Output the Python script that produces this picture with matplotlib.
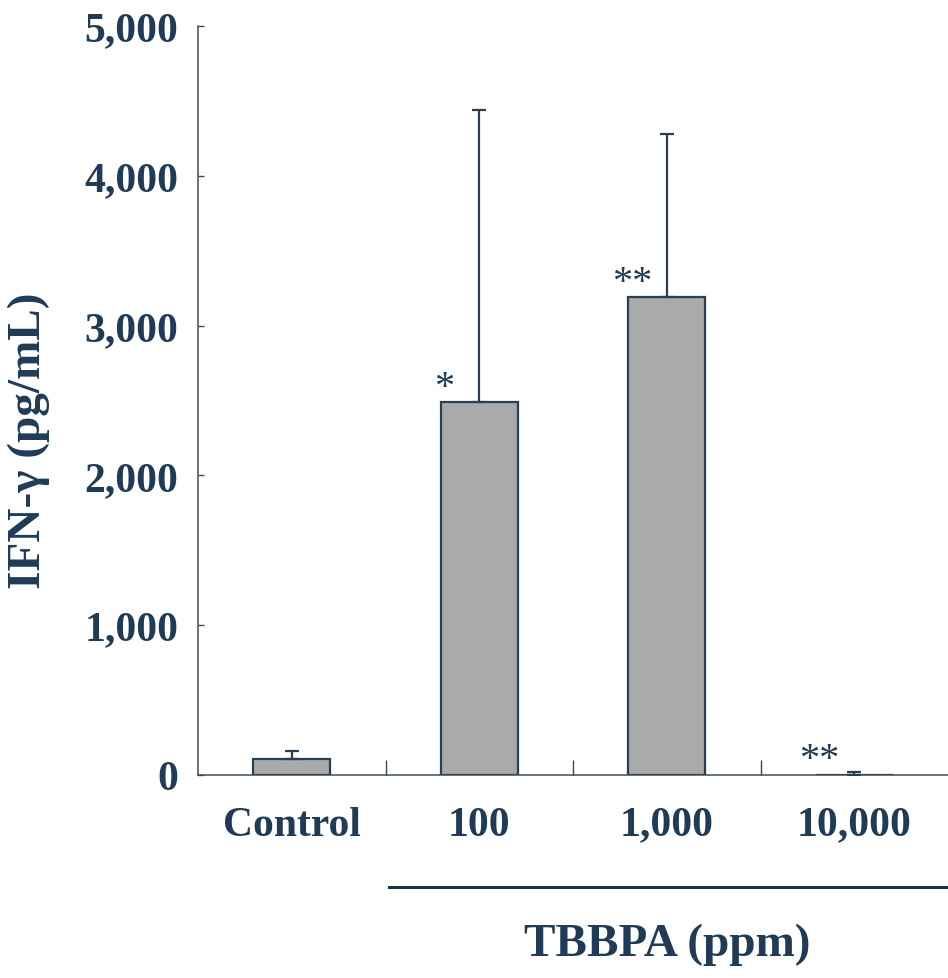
import matplotlib
matplotlib.use("Agg")
import matplotlib.pyplot as plt
import matplotlib.transforms as mtransforms

categories = ["Control", "100", "1,000", "10,000"]
means = [110, 2490, 3190, 2]
errors = [50, 1950, 1090, 18]
stars = ["", "*", "**", "**"]
yticks = [0, 1000, 2000, 3000, 4000, 5000]
ytick_labels = ["0", "1,000", "2,000", "3,000", "4,000", "5,000"]

navy = "#1f3b57"
edge = "#2b3f52"
fill = "#a9aaa9"
serif = ["Liberation Serif", "DejaVu Serif"]

fig = plt.figure(figsize=(9.48, 9.79), dpi=100)
ax = fig.add_axes([198 / 948, 1 - 776 / 979, 750 / 948, 749 / 979])

x = list(range(len(categories)))
ax.bar(x, means, width=0.41, color=fill, edgecolor=edge, linewidth=1.6, zorder=2)
ax.errorbar(x, means, yerr=[[0] * len(errors), errors], fmt="none",
            ecolor=edge, elinewidth=1.6, capsize=5, capthick=1.6, zorder=3)

for xi, m, s in zip(x, means, stars):
    if s:
        ax.text(xi - 0.185, m - 25, s, ha="center", va="bottom",
                fontsize=29, family=serif, color=navy)

ax.set_xlim(-0.5, 3.5)
ax.set_ylim(0, 5000)
ax.set_yticks(yticks)
ax.set_yticklabels(ytick_labels)
ax.set_xticks(x)
ax.set_xticklabels(categories)
ax.set_xticks([0.5, 1.5, 2.5], minor=True)

for sp in ["top", "right"]:
    ax.spines[sp].set_visible(False)
for sp in ["left", "bottom"]:
    ax.spines[sp].set_color("#3c4b58")
    ax.spines[sp].set_linewidth(1.1)

ax.tick_params(axis="y", direction="in", length=4, width=1, color="#3c4b58", pad=14)
ax.tick_params(axis="x", which="major", length=0, pad=22)
ax.tick_params(axis="x", which="minor", direction="in", length=11, width=1, color="#3c4b58")

for lab in ax.get_yticklabels() + ax.get_xticklabels():
    lab.set_fontfamily(serif)
    lab.set_fontweight("bold")
    lab.set_fontsize(30)
    lab.set_color(navy)

ax.set_ylabel("IFN-γ (pg/mL)", fontsize=34, fontweight="bold", family=serif, color=navy)
ax.yaxis.set_label_coords(-0.197, 0.447)

trans = mtransforms.blended_transform_factory(ax.transData, ax.transAxes)
ax.plot([0.52, 3.5], [-0.1495, -0.1495], transform=trans, color="#1f3040",
        linewidth=2.2, clip_on=False)
ax.text(2.0, -0.226, "TBBPA (ppm)", transform=trans, ha="center", va="center",
        fontsize=34, fontweight="bold", family=serif, color=navy)

fig.savefig("out.png", dpi=100)
